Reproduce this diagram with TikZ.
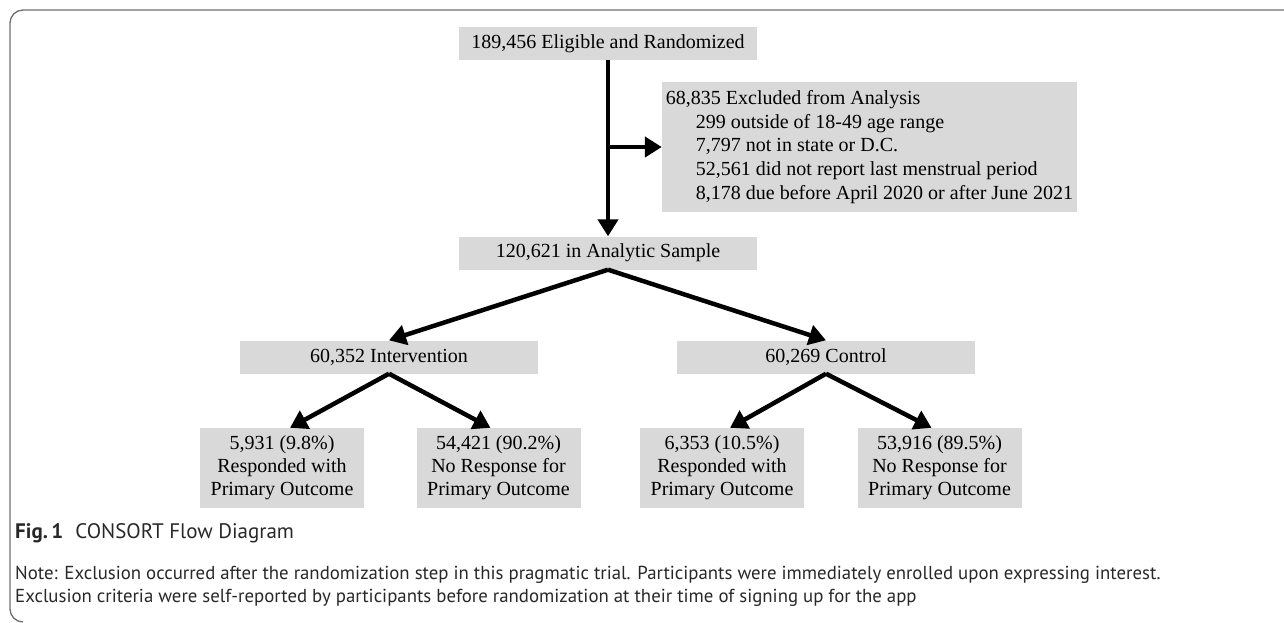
\documentclass[tikz,border=0pt]{standalone}
\usepackage{fontspec}
\setmainfont{Liberation Serif}
\newfontfamily\capfont{PT Sans}
\usetikzlibrary{calc,positioning,arrows.meta}
\definecolor{boxgray}{RGB}{217,217,217}
\definecolor{framegray}{RGB}{110,110,110}
\definecolor{captiongray}{RGB}{40,40,40}
\begin{document}
\begin{tikzpicture}[
	x=1pt, y=1pt,
	flowbox/.style={fill=boxgray, minimum width=298pt, minimum height=33pt, inner sep=0pt, font=\fontsize{20}{23}\selectfont},
	outcomebox/.style={flowbox, minimum width=164pt, minimum height=80pt, align=center},
	flowarrow/.style={line width=4.5pt, -{Triangle[length=17pt,width=20pt]}},
	captext/.style={anchor=west, inner sep=0pt, text=captiongray, font=\capfont\fontsize{18.8}{22}\selectfont}
	]
	\useasboundingbox (0,0) rectangle (1284,-622);
	% Frame
	\draw[framegray, line width=1.3pt] (1284,-10) -- (23,-10) arc[start angle=90, end angle=180, radius=13] -- (10,-609) arc[start angle=180, end angle=270, radius=13];
	%Nodes
	\node[flowbox](Eligible) at (608,-43.5) {189,456 Eligible and Randomized};
	\node[flowbox, minimum width=415pt, minimum height=130pt, align=left, font=\fontsize{20}{23.6}\selectfont](Excluded) at (869.5,-147) {68,835 Excluded from Analysis\\
		\hspace*{30pt}299 outside of 18-49 age range\\
		\hspace*{30pt}7,797 not in state or D.C.\\
		\hspace*{30pt}52,561 did not report last menstrual period\\
		\hspace*{30pt}8,178 due before April 2020 or after June 2021};
	\node[flowbox](Analytic) at (608,-253) {120,621 in Analytic Sample};
	\node[flowbox](Intervention) at (389,-357) {60,352 Intervention};
	\node[flowbox](Control) at (826,-357) {60,269 Control};
	\node[outcomebox](IntResp) at (282,-468) {5,931 (9.8\%)\\Responded with\\Primary Outcome};
	\node[outcomebox](IntNoResp) at (498.5,-468) {54,421 (90.2\%)\\No Response for\\Primary Outcome};
	\node[outcomebox](CtrlResp) at (722,-468) {6,353 (10.5\%)\\Responded with\\Primary Outcome};
	\node[outcomebox](CtrlNoResp) at (939.5,-468) {53,916 (89.5\%)\\No Response for\\Primary Outcome};
	%Lines
	\draw[flowarrow] (Eligible.south) -- (Analytic.north);
	\draw[flowarrow] (Eligible.south |- Excluded.west) -- (Excluded.west);
	\draw[flowarrow] (Analytic.south) -- (Intervention.north);
	\draw[flowarrow] (Analytic.south) -- (Control.north);
	\draw[flowarrow] (Intervention.south) -- ($(IntResp.north)+(8,0)$);
	\draw[flowarrow] (Intervention.south) -- ($(IntNoResp.north)+(-8,0)$);
	\draw[flowarrow] (Control.south) -- ($(CtrlResp.north)+(8,0)$);
	\draw[flowarrow] (Control.south) -- ($(CtrlNoResp.north)+(-8,0)$);
	% Caption and note
	\node[captext, font=\capfont\fontsize{21}{24}\selectfont](Caption) at (15,-533) {\textbf{Fig.\,1}\hspace{12pt}CONSORT Flow Diagram};
	\node[captext](NoteOne) at (15,-575) {Note: Exclusion occurred after the randomization step in this pragmatic trial. Participants were immediately enrolled upon expressing interest.};
	\node[captext](NoteTwo) at (15,-598) {Exclusion criteria were self-reported by participants before randomization at their time of signing up for the app};
\end{tikzpicture}
\end{document}
